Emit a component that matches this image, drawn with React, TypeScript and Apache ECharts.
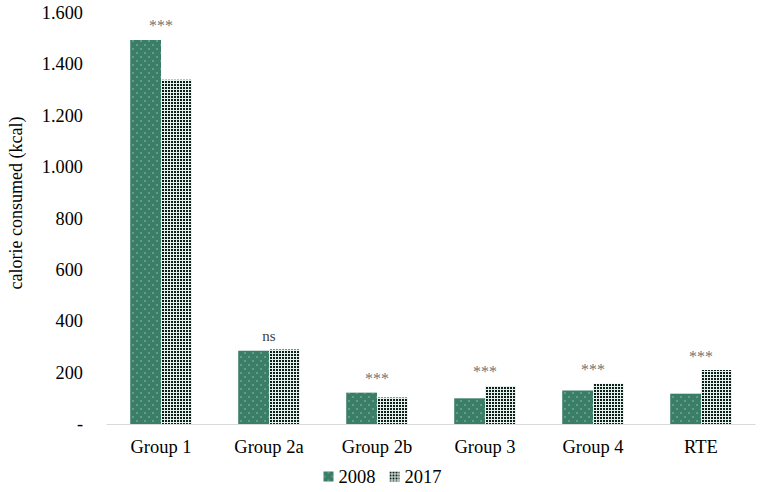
import React, { useEffect, useRef } from "react";
import * as echarts from "echarts";

const categories = ["Group 1", "Group 2a", "Group 2b", "Group 3", "Group 4", "RTE"];
const values2008 = [1495, 285, 122, 100, 130, 118];
const values2017 = [1340, 290, 103, 148, 157, 210];
const significance = ["***", "ns", "***", "***", "***", "***"];
const yTicks = [0, 200, 400, 600, 800, 1000, 1200, 1400, 1600];
const yAxisTitle = "calorie consumed (kcal)";

function fmt(v: number): string {
  if (v === 0) return "-";
  const s = String(v);
  if (v >= 1000) return s.slice(0, s.length - 3) + "." + s.slice(s.length - 3);
  return s;
}

export default function App() {
  const ref = useRef<HTMLDivElement>(null);
  useEffect(() => {
    const chart = echarts.init(ref.current!, null, { renderer: "svg" });
    const font = "Liberation Serif";
    const annotMax = values2008.map((v, i) => Math.max(v, values2017[i]));
    chart.setOption({
      animation: false,
      textStyle: { fontFamily: font },
      grid: { left: 107, right: 10, top: 13, bottom: 68, containLabel: false },
      legend: {
        bottom: 1,
        left: "center",
        icon: "rect",
        itemWidth: 10,
        itemHeight: 10,
        itemGap: 14,
        textStyle: { fontFamily: font, fontSize: 18.5, color: "#000" },
        data: ["2008", "2017"],
      },
      graphic: [
        {
          type: "text",
          x: 16,
          y: 203,
          rotation: Math.PI / 2,
          style: {
            text: yAxisTitle,
            font: `18px "${font}"`,
            fill: "#000",
            textAlign: "center",
            textVerticalAlign: "middle",
          },
        },
      ],
      xAxis: {
        type: "category",
        data: categories,
        axisLine: { show: true, lineStyle: { color: "#d9d9d9", width: 1 } },
        axisTick: { show: false },
        axisLabel: { fontFamily: font, fontSize: 18.5, color: "#000", margin: 13 },
      },
      yAxis: {
        type: "value",
        min: 0,
        max: 1600,
        interval: 200,
        axisLine: { show: false },
        axisTick: { show: false },
        splitLine: { show: false },
        axisLabel: {
          fontFamily: font,
          fontSize: 18.3,
          color: "#000",
          margin: 24,
          formatter: (v: number) => (yTicks.includes(v) ? fmt(v) : ""),
        },
      },
      series: [
        {
          name: "2008",
          type: "bar",
          data: values2008,
          barGap: "0%",
          barCategoryGap: "43%",
          itemStyle: {
            color: "#3b7e68",
            decal: {
              symbol: "circle",
              symbolSize: 0.6,
              color: "rgba(220,240,230,0.75)",
              dashArrayX: [[2, 6], [0, 4, 2, 2]],
              dashArrayY: [2, 2],
            },
          },
        },
        {
          name: "2017",
          type: "bar",
          data: values2017,
          itemStyle: {
            color: "#e6f0ec",
            decal: {
              symbol: "rect",
              symbolSize: 1,
              color: "#0c1f19",
              dashArrayX: [2, 1],
              dashArrayY: [2, 1],
            },
          },
        },
        {
          name: "sig",
          type: "scatter",
          data: annotMax,
          symbolSize: 0,
          silent: true,
          label: {
            show: true,
            position: "top",
            distance: 6,
            fontFamily: font,
            fontSize: 16,
            color: "#444",
            formatter: (p: any) => {
              const t = significance[p.dataIndex];
              return t === "ns" ? "{ns|" + t + "}" : "{st|" + t + "}";
            },
            rich: {
              ns: { fontFamily: font, fontSize: 15, color: "#000" },
              st: { fontFamily: font, fontSize: 16, color: "#4a4a4a" },
            },
          },
        },
      ],
    });
    return () => chart.dispose();
  }, []);
  return (
    <div
      ref={ref}
      style={{ position: "absolute", left: 0, top: 0, width: 765, height: 492 }}
    />
  );
}
